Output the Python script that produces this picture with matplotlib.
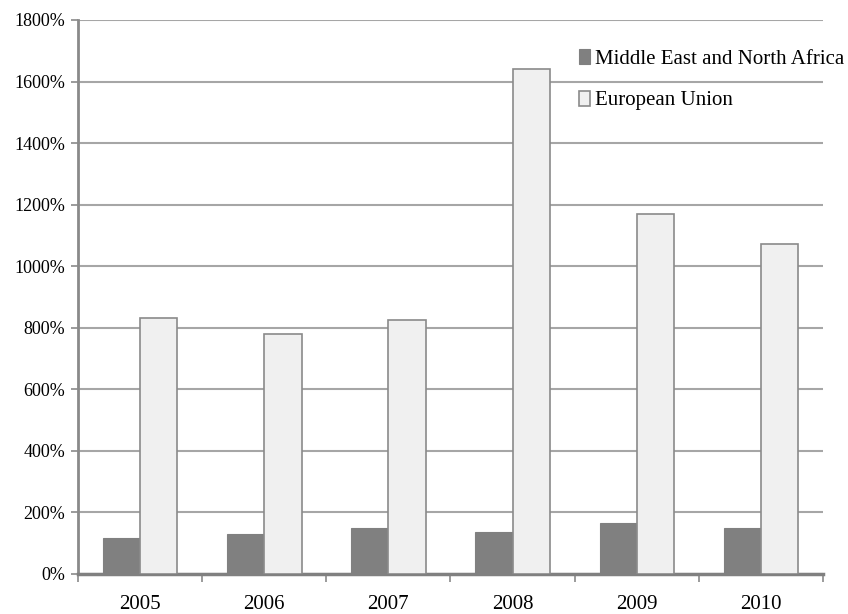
import matplotlib
matplotlib.use("Agg")
import matplotlib.pyplot as plt
import numpy as np

years = ["2005", "2006", "2007", "2008", "2009", "2010"]
mena = [117, 130, 150, 137, 166, 150]
eu = [832, 780, 826, 1642, 1171, 1073]
yticks = [0, 200, 400, 600, 800, 1000, 1200, 1400, 1600, 1800]

plt.rcParams['font.family'] = ['Liberation Serif', 'DejaVu Serif']

fig = plt.figure(figsize=(8.48, 6.14), dpi=100)
ax = fig.add_axes([78/848, 1-574/614, 745/848, 554/614])

x = np.arange(len(years))
w = 0.3
ax.bar(x - w/2, mena, width=w, color="#808080", edgecolor="#808080", linewidth=0.8,
       label="Middle East and North Africa", zorder=3)
ax.bar(x + w/2, eu, width=w, color="#f0f0f0", edgecolor="#8a8a8a", linewidth=1.2,
       label="European Union", zorder=3)

ax.set_xlim(-0.5, len(years) - 0.5)
ax.set_ylim(0, 1800)
ax.set_yticks(yticks)
ax.set_yticklabels([f"{v}%" for v in yticks], fontsize=13)
ax.yaxis.grid(True, color="#a6a6a6", linewidth=1.5, zorder=0)
ax.set_axisbelow(True)

ax.set_xticks(np.arange(-0.5, len(years)), minor=False)
ax.set_xticklabels([""] * (len(years) + 1))
ax.set_xticks(x, minor=True)
ax.set_xticklabels(years, minor=True, fontsize=15)
ax.tick_params(axis='x', which='major', length=6, color="#8a8a8a", width=1.2, direction='out')
ax.tick_params(axis='x', which='minor', length=0, pad=15)
ax.tick_params(axis='y', length=5, color="#8a8a8a", width=1.2, pad=4)

for s in ["top", "right"]:
    ax.spines[s].set_visible(False)
ax.spines["left"].set_color("#8a8a8a")
ax.spines["left"].set_linewidth(2)
ax.spines["bottom"].set_color("#808080")
ax.spines["bottom"].set_linewidth(2.5)

leg = ax.legend(loc="upper left", bbox_to_anchor=(0.672, 0.948), frameon=False,
                fontsize=15, handlelength=0.55, handleheight=0.75, handletextpad=0.25,
                labelspacing=1.05, borderaxespad=0, borderpad=0)

fig.savefig("out.png", dpi=100)
